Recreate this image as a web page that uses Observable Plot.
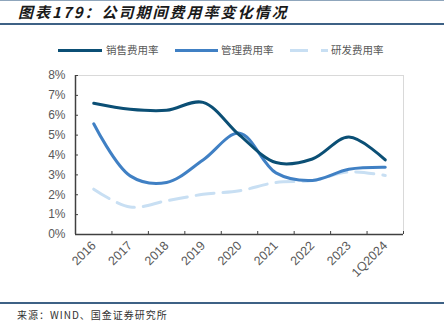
<!DOCTYPE html>
<html><head><meta charset="utf-8">
<script src="https://cdn.jsdelivr.net/npm/d3@7"></script>
<script src="https://cdn.jsdelivr.net/npm/@observablehq/plot@0.6"></script>
<style>
body{margin:0;background:#fff;}
#wrap{position:relative;width:444px;height:329px;overflow:hidden;font-family:"Noto Sans CJK SC","Liberation Sans",sans-serif;}
.abs{position:absolute;white-space:nowrap;}
#title{left:18px;top:3px;font-size:15px;font-weight:bold;font-style:italic;letter-spacing:2px;color:#1a1a1a;line-height:18px;}
.hl{position:absolute;left:0;width:444px;background:#3d6185;}
.leg{font-size:10.5px;color:#595959;line-height:12px;top:44px;}
#src{left:17px;top:308px;font-size:10px;color:#333;letter-spacing:1px;line-height:14px;}
svg.plot{position:absolute;left:0;top:0;}
</style></head>
<body><div id="wrap">
<div class="hl" style="top:0;height:1px;background:#8fa6bc"></div>
<div id="title" class="abs">图表179：公司期间费用率变化情况</div>
<div class="hl" style="top:23px;height:2px"></div>
<div id="legend"></div>
<div class="hl" style="top:302px;height:1.5px"></div>
<div id="src" class="abs">来源：WIND、国金证券研究所</div>
</div>
<script>
const categories = ["2016","2017","2018","2019","2020","2021","2022","2023","1Q2024"];
const sales = [6.6, 6.3, 6.25, 6.65, 5.0, 3.62, 3.8, 4.9, 3.75];
const admin = [5.57, 2.95, 2.62, 3.75, 5.1, 3.1, 2.72, 3.28, 3.38];
const rnd   = [2.28, 1.38, 1.7, 2.02, 2.2, 2.62, 2.72, 3.15, 2.97];
const seriesNames = ["销售费用率","管理费用率","研发费用率"];
const colors = ["#0b4f75","#4080c4","#c8dff3"];
const yTicks = [0,1,2,3,4,5,6,7,8];

const rows = [];
[sales, admin, rnd].forEach((arr, s) => arr.forEach((v, i) => rows.push({s: seriesNames[s], i, v})));
const idx = categories.map((_, i) => i);
const bounds = d3.range(categories.length + 1).map(i => i - 0.5);

const W = 444, H = 329, mL = 75, mR = 41, mT = 75, mB = 95;
const plotH = H - mT - mB, plotW = W - mL - mR;
const font = "'Liberation Sans', Arial, sans-serif";

const chart = Plot.plot({
  width: W, height: H,
  marginLeft: mL, marginRight: mR, marginTop: mT, marginBottom: mB,
  x: {domain: [-0.5, categories.length - 0.5]},
  y: {domain: [0, 8]},
  style: {fontFamily: font, background: "transparent"},
  marks: [
    Plot.ruleY([8], {stroke: "#d9d9d9", strokeWidth: 1}),
    Plot.ruleX([categories.length - 0.5], {stroke: "#d9d9d9", strokeWidth: 1}),
    Plot.line(rows.filter(d => d.s === seriesNames[2]), {x: "i", y: "v", stroke: colors[2], strokeWidth: 3, curve: "catmull-rom", strokeDasharray: "18,9"}),
    Plot.line(rows.filter(d => d.s === seriesNames[1]), {x: "i", y: "v", stroke: colors[1], strokeWidth: 3, curve: "catmull-rom"}),
    Plot.line(rows.filter(d => d.s === seriesNames[0]), {x: "i", y: "v", stroke: colors[0], strokeWidth: 3, curve: "catmull-rom"}),
    Plot.ruleX([-0.5], {stroke: "#404040", strokeWidth: 1.5}),
    Plot.ruleY([0], {stroke: "#404040", strokeWidth: 1.5}),
    Plot.tickY(yTicks, {y: d => d, stroke: "#404040", strokeWidth: 1, insetRight: plotW - 3}),
    Plot.tickX(bounds, {x: d => d, stroke: "#404040", strokeWidth: 1, insetTop: plotH - 3}),
    Plot.axisY({ticks: yTicks, tickFormat: d => d + "%", tickSize: 0, tickPadding: 10, fontSize: 12, color: "#595959", label: null}),
    Plot.axisX({ticks: idx, tickFormat: i => categories[i], tickSize: 0, tickPadding: 9, tickRotate: -45, fontSize: 12.5, color: "#595959", label: null})
  ]
});
chart.classList.add("plot");
document.getElementById("wrap").appendChild(chart);

// legend
const leg = document.getElementById("legend");
const legItems = [
  {name: seriesNames[0], color: colors[0], x1: 58, x2: 102, tx: 106, dash: null},
  {name: seriesNames[1], color: colors[1], x1: 175, x2: 218, tx: 221, dash: null},
  {name: seriesNames[2], color: colors[2], x1: 290, x2: 328, tx: 331, dash: "18,13"}
];
const ns = "http://www.w3.org/2000/svg";
const lsvg = document.createElementNS(ns, "svg");
lsvg.setAttribute("width", 444); lsvg.setAttribute("height", 20);
lsvg.style.position = "absolute"; lsvg.style.left = "0"; lsvg.style.top = "40px";
legItems.forEach(it => {
  const l = document.createElementNS(ns, "line");
  l.setAttribute("x1", it.x1); l.setAttribute("x2", it.x2);
  l.setAttribute("y1", 10.5); l.setAttribute("y2", 10.5);
  l.setAttribute("stroke", it.color); l.setAttribute("stroke-width", 3);
  if (it.dash) l.setAttribute("stroke-dasharray", it.dash);
  lsvg.appendChild(l);
  const d = document.createElement("div");
  d.className = "abs leg"; d.style.left = it.tx + "px"; d.textContent = it.name;
  leg.appendChild(d);
});
leg.appendChild(lsvg);
</script>
</body></html>
